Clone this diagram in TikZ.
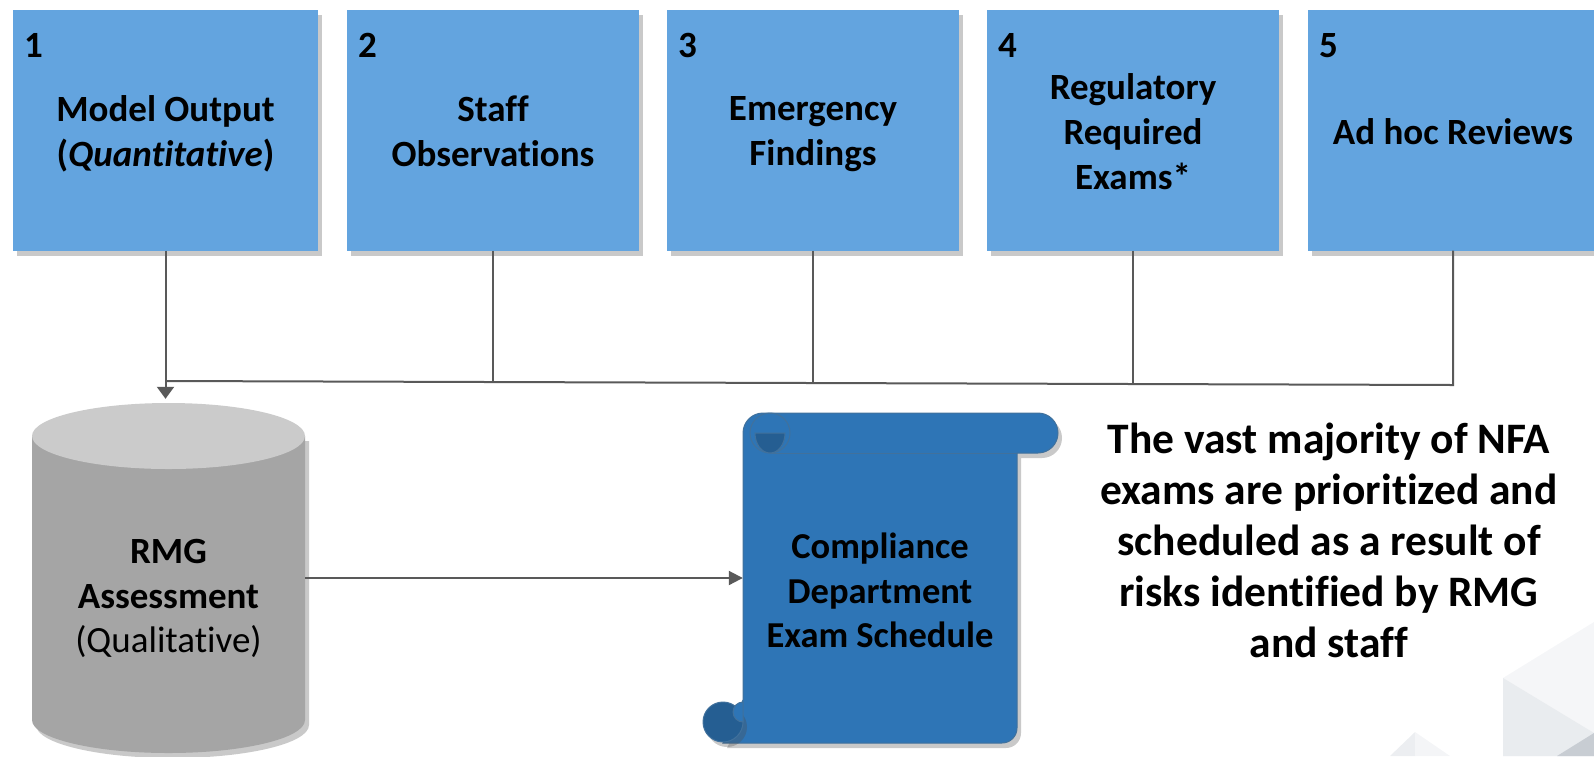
\documentclass[tikz,border=0pt]{standalone}
\usepackage{fontspec}
\setmainfont{Carlito}[Ligatures=NoCommon]
\usetikzlibrary{arrows.meta,shadows}
\definecolor{boxblue}{RGB}{99,164,223}
\definecolor{scrollblue}{RGB}{46,117,182}
\definecolor{scrolldark}{RGB}{37,94,146}
\definecolor{scrolledge}{RGB}{65,113,156}
\definecolor{cylbody}{RGB}{165,165,165}
\definecolor{cyltop}{RGB}{203,203,203}
\definecolor{linegray}{RGB}{89,89,89}
\definecolor{decoA}{RGB}{245,246,248}
\definecolor{decoB}{RGB}{233,236,239}
\definecolor{decoC}{RGB}{200,205,211}
\definecolor{decoD}{RGB}{236,238,241}
\definecolor{decoE}{RGB}{244,245,247}
\newcommand{\ks}{\rule[-8pt]{0pt}{38pt}}
\newcommand{\kb}{\rule[-5pt]{0pt}{38pt}}
\begin{document}
\begin{tikzpicture}[x=1pt,y=-1pt,
  shade/.style={drop shadow={shadow xshift=4pt,shadow yshift=-5pt,opacity=0.3,fill=black!70}},
  srcbox/.style={fill=boxblue,draw=none,minimum height=241pt,inner sep=0pt,align=center,
    font=\fontsize{37}{45}\selectfont\bfseries,shade},
  numlbl/.style={anchor=base west,inner sep=0pt,font=\fontsize{37}{45}\selectfont\bfseries},
  conn/.style={draw=linegray,line width=2pt},
  arrdown/.style={conn,-{Triangle[length=12pt,width=17pt]}},
  arrright/.style={conn,-{Triangle[length=14pt,width=14pt]}},
  anchorbox/.style={inner sep=0pt,draw=none}]
\useasboundingbox (0,0) rectangle (1594,756);

% faint background decoration
\fill[decoA] (1503,678) -- (1594,622) -- (1594,756) -- (1503,756) -- cycle;
\fill[decoB] (1503,678) -- (1594,733) -- (1594,756) -- (1503,756) -- cycle;
\fill[decoC] (1557,756) -- (1594,733) -- (1594,756) -- cycle;
\fill[decoD] (1390,756) -- (1415,732) -- (1415,756) -- cycle;
\fill[decoE] (1415,732) -- (1450,756) -- (1415,756) -- cycle;

% source boxes
\node[srcbox,minimum width=305pt] (b1) at (165.5,130) {\kb Model Output\\(\textit{Quantitative})\kb};
\node[srcbox,minimum width=292pt] (b2) at (493,130) {\kb Staff\\Observations\kb};
\node[srcbox,minimum width=292pt] (b3) at (813,130) {\kb Emergency\\Findings\kb};
\node[srcbox,minimum width=292pt] (b4) at (1133,130) {\kb Regulatory\\Required\\Exams*\kb};
\node[srcbox,minimum width=290pt] (b5) at (1453,130) {\kb Ad hoc Reviews\kb};
\node[numlbl] (n1) at (24,57) {1};
\node[numlbl] (n2) at (358,57) {2};
\node[numlbl] (n3) at (678,57) {3};
\node[numlbl] (n4) at (998,57) {4};
\node[numlbl] (n5) at (1319,57) {5};

% cylinder
\path[fill=cylbody,shade] (32,436) -- (32,720) arc[start angle=180,end angle=0,x radius=136.5,y radius=33] -- (305,436) -- cycle;
\fill[cyltop] (168.5,436) ellipse[x radius=136.5,y radius=33];
\node[anchorbox,minimum width=273pt,minimum height=350pt] (rmg) at (168.5,578) {};
\node[font=\fontsize{37}{44.5}\selectfont,align=center] (rmgtxt) at (168.5,597)
  {\ks\textbf{RMG}\\\textbf{Assessment}\\(Qualitative)\ks};

% scroll
\path[fill=scrollblue,draw=scrolledge,line width=1pt,shade]
  (743,700) -- (743,433) arc[start angle=180,end angle=270,radius=20]
  -- (1038,413) arc[start angle=270,end angle=450,radius=20]
  -- (1017,453) -- (1017,728) arc[start angle=0,end angle=90,radius=15]
  -- (723,743) -- cycle;
\draw[scrolledge,line width=1pt] (770,453) -- (1017,453);
\draw[scrolledge,line width=1pt] (770,433) circle[radius=20];
\path[fill=scrolldark,draw=scrolledge,line width=1pt] (755,433) arc[start angle=180,end angle=0,x radius=15,y radius=20] -- cycle;
\path[fill=scrolldark,draw=scrolledge,line width=1pt,shade] (723,722) circle[radius=20];
\path[fill=scrollblue,draw=scrolledge,line width=1pt] (743,702) arc[start angle=270,end angle=90,radius=10] -- cycle;
\node[anchorbox,minimum width=274pt,minimum height=330pt] (sched) at (880,578) {};
\node[font=\fontsize{36.5}{44.5}\selectfont\bfseries,align=center] (schedtxt) at (880,592)
  {\ks Compliance\\Department\\Exam Schedule\ks};

% note
\node[font=\fontsize{43.5}{51}\selectfont\bfseries,align=center] (note) at (1329,544)
  {\ks The vast majority of NFA\\exams are prioritized and\\scheduled as a result of\\risks identified by RMG\\and staff\ks};

% connectors
\coordinate (busL) at (165.5,381);
\coordinate (busR) at (1453,385);
\coordinate (j2) at (493,382);
\coordinate (j3) at (813,383);
\coordinate (j4) at (1133,384);
\draw[conn] (b5.south) -- (busR) -- (busL);
\draw[conn] (b2.south) -- (j2);
\draw[conn] (b3.south) -- (j3);
\draw[conn] (b4.south) -- (j4);
\draw[arrdown,shorten >=4pt] (b1.south) -- (b1.south |- rmg.north);
\draw[arrright] (rmg.east) -- (sched.west);
\end{tikzpicture}
\end{document}
